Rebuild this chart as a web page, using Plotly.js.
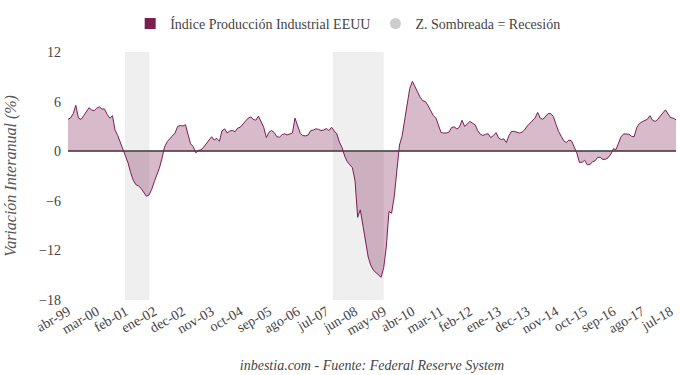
<!DOCTYPE html>
<html>
<head>
<meta charset="utf-8">
<script src="https://cdn.plot.ly/plotly-3.0.1.min.js"></script>
<style>html,body{margin:0;padding:0;background:#fff;}#chart{width:680px;height:375px;}</style>
</head>
<body>
<div id="chart"></div>
<script>
// Monthly series: abr-1999 .. sep-2018 (variación interanual, %)
const startMonth = "1999-04";
const ipValues = [
 3.86,4.02,4.55,5.55,4.0,3.85,4.3,4.85,5.25,5.0,
 4.9,5.2,5.35,5.1,5.1,4.45,4.0,4.3,2.55,1.9,
 1.1,0.2,-0.6,-1.4,-2.6,-3.5,-4.05,-4.2,-4.5,-4.95,
 -5.45,-5.3,-4.65,-3.7,-2.9,-2.1,-0.9,0.5,1.15,1.5,
 1.85,2.2,3.0,3.1,3.05,3.2,1.95,0.9,0.55,-0.2,
 0.1,0.15,0.5,0.95,1.35,1.75,1.35,1.55,1.2,2.45,
 2.7,2.2,2.45,2.5,2.35,2.8,2.9,3.35,3.65,4.0,
 4.15,3.85,3.75,4.25,3.45,2.9,1.65,2.3,2.5,2.25,
 1.75,1.7,2.0,2.1,1.97,2.1,2.2,4.0,3.1,2.15,
 1.9,1.85,1.95,2.5,2.55,2.7,2.65,2.5,2.55,2.75,
 2.5,2.9,2.45,2.1,1.1,0.45,-0.6,-1.25,-1.65,-2.0,
 -3.6,-8.0,-7.1,-9.0,-11.0,-12.8,-13.8,-14.4,-14.7,-14.95,
 -15.25,-14.1,-11.5,-7.3,-7.5,-5.5,-2.2,0.75,1.8,3.9,
 6.0,7.6,8.45,7.8,7.1,6.5,6.1,6.0,5.5,4.8,
 4.3,4.0,3.1,2.25,2.2,2.2,2.3,2.85,2.95,2.7,
 2.9,3.75,3.0,3.3,3.6,3.4,3.2,2.5,2.05,1.9,
 2.05,2.1,1.65,1.9,2.25,1.6,1.4,1.5,1.05,1.9,
 2.4,2.4,2.3,2.2,2.3,2.6,3.05,3.35,3.7,4.0,
 4.7,4.0,3.85,4.15,4.55,4.55,4.2,3.25,2.4,1.8,
 1.25,1.05,1.35,1.25,0.6,-0.2,-1.35,-1.35,-1.1,-1.65,
 -1.6,-1.3,-1.15,-0.75,-0.75,-1.0,-0.97,-0.8,-0.35,0.3,
 0.2,0.95,1.8,2.1,2.1,2.05,1.8,1.75,2.9,3.35,
 3.55,3.7,3.85,4.3,3.75,3.6,3.85,4.25,4.65,5.0,
 4.5,4.05,4.0,3.8
];
const tickDates = ["1999-04-01","2000-03-01","2001-02-01","2002-01-01","2002-12-01","2003-11-01",
 "2004-10-01","2005-09-01","2006-08-01","2007-07-01","2008-06-01","2009-05-01","2010-04-01",
 "2011-03-01","2012-02-01","2013-01-01","2013-12-01","2014-11-01","2015-10-01","2016-09-01",
 "2017-08-01","2018-07-01"];
const tickLabels = ["abr-99","mar-00","feb-01","ene-02","dec-02","nov-03","oct-04","sep-05","ago-06",
 "jul-07","jun-08","may-09","abr-10","mar-11","feb-12","ene-13","dec-13","nov-14","oct-15",
 "sep-16","ago-17","jul-18"];
const recessionStart = ["2001-01-25","2007-09-15"];
const recessionEnd = ["2001-11-05","2009-05-01"];
const seriesName = "Índice Producción Industrial EEUU";
const recessionName = "Z. Sombreada = Recesión";

// build monthly dates
const dates = [];
{
  let y = parseInt(startMonth.slice(0,4)), m = parseInt(startMonth.slice(5,7));
  for (let i = 0; i < ipValues.length; i++) {
    dates.push(y + "-" + String(m).padStart(2,"0") + "-01");
    m++; if (m > 12) { m = 1; y++; }
  }
}

const FONT = "'Liberation Serif', 'DejaVu Serif', serif";
const lineColor = "#7b1f4f";

const traces = [
  {
    x: dates, y: ipValues, type: "scatter", mode: "lines",
    line: {color: lineColor, width: 1},
    fill: "tozeroy", fillcolor: "rgba(123,31,79,0.3)",
    showlegend: false, hoverinfo: "x+y"
  },
  {
    x: [null], y: [null], type: "scatter", mode: "markers", name: seriesName,
    marker: {symbol: "square", color: lineColor, size: 11}
  },
  {
    x: [null], y: [null], type: "scatter", mode: "markers", name: recessionName,
    marker: {symbol: "circle", color: "#cccccc", size: 11}
  }
];

const shapes = recessionStart.map((s, i) => ({
  type: "rect", xref: "x", yref: "paper", x0: s, x1: recessionEnd[i], y0: 0, y1: 1,
  fillcolor: "#efefef", line: {width: 0}, layer: "below"
}));

const layout = {
  width: 680, height: 375,
  margin: {l: 68, r: 4, t: 52, b: 75},
  paper_bgcolor: "#ffffff", plot_bgcolor: "#ffffff",
  font: {family: FONT, size: 14, color: "#444"},
  showlegend: true,
  legend: {orientation: "h", x: 0.46, xanchor: "center", y: 1.113, yanchor: "middle",
    font: {family: FONT, size: 14, color: "#444"}, itemwidth: 20, tracegroupgap: 0},
  xaxis: {
    type: "date", range: [dates[0], dates[dates.length-1]],
    tickmode: "array", tickvals: tickDates, ticktext: tickLabels, tickangle: -30,
    showgrid: false, zeroline: false, showline: false, ticks: "",
    tickfont: {family: FONT, size: 14, color: "#444"},
    title: {text: "inbestia.com - Fuente: Federal Reserve System",
      font: {family: FONT, size: 14, color: "#444", style: "italic"}, standoff: 23}
  },
  yaxis: {
    range: [-18, 12], tickmode: "array", tickvals: [-18,-12,-6,0,6,12],
    showgrid: false, zeroline: true, zerolinecolor: "#666666", zerolinewidth: 1.5,
    showline: false, ticks: "", ticklabelstandoff: 6,
    tickfont: {family: FONT, size: 14, color: "#444"},
    title: {text: "Variación Interanual (%)",
      font: {family: FONT, size: 16, color: "#555", style: "italic"}, standoff: 18}
  },
  shapes: shapes
};

Plotly.newPlot("chart", traces, layout, {displayModeBar: false, staticPlot: true});
</script>
</body>
</html>
